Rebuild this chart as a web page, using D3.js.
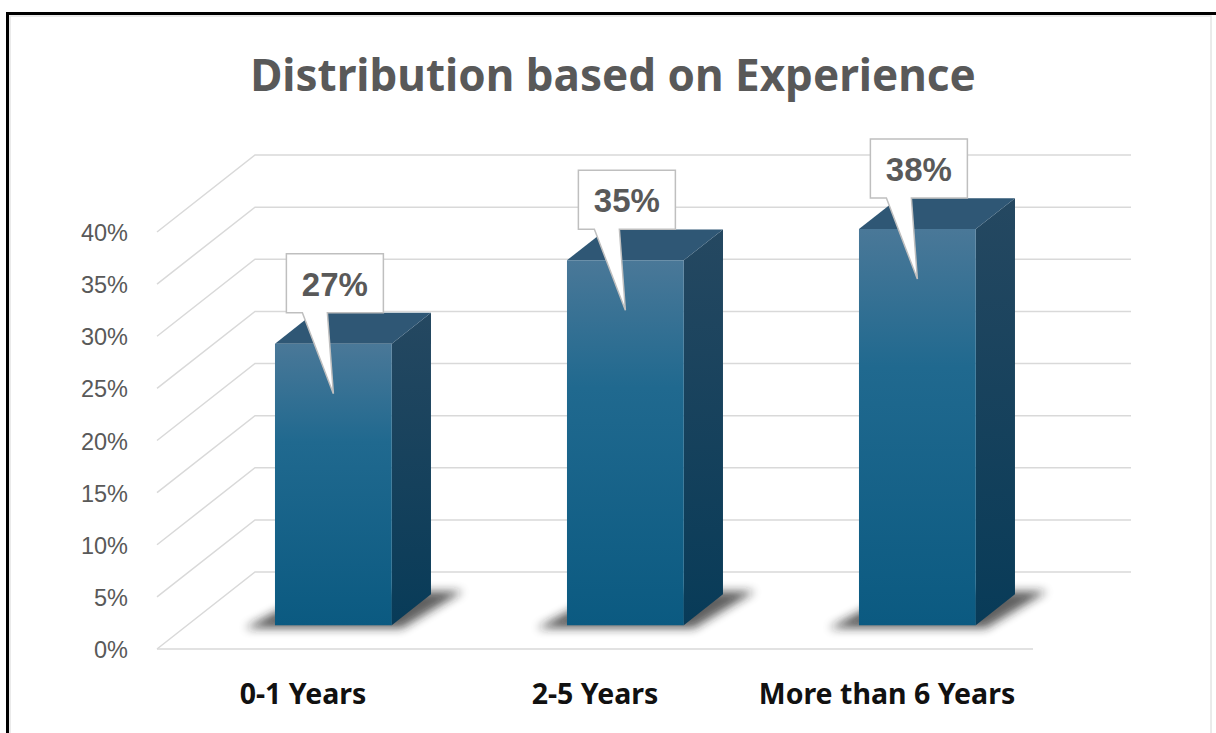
<!DOCTYPE html>
<html lang="en">
<meta charset="utf-8">
<script src="https://cdn.jsdelivr.net/npm/d3@7"></script>
<style>
  body { margin: 0; background: #fff; }
</style>
<body>
<div id="chart"></div>
<script>
    // data
    var categories = ["0-1 Years", "2-5 Years", "More than 6 Years"];
    var shares = [0.27, 0.35, 0.38];
    var shareLabels = ["27%", "35%", "38%"];
    var yTicks = [0, 0.05, 0.10, 0.15, 0.20, 0.25, 0.30, 0.35, 0.40];
    var title = "Distribution based on Experience";

    var W = 1216, H = 733;
    var floorLeft = 157, floorRight = 1033, baseY = 649, topY = 232;
    var depth = {dx: 98, dy: -77};      // oblique depth of the whole floor
    var barFront = 0.31, barBack = 0.71; // bar position inside the depth

    var svg = d3.select("#chart").append("svg")
        .attr("width", W)
        .attr("height", H);

    var defs = svg.append("defs");

    var gFront = defs.append("linearGradient").attr("id", "front")
        .attr("x1", 0).attr("y1", 0).attr("x2", 0).attr("y2", 1);
    gFront.append("stop").attr("offset", "0%").attr("stop-color", "#4a7898");
    gFront.append("stop").attr("offset", "35%").attr("stop-color", "#20698f");
    gFront.append("stop").attr("offset", "100%").attr("stop-color", "#0b5a81");

    var gSide = defs.append("linearGradient").attr("id", "side")
        .attr("x1", 0).attr("y1", 0).attr("x2", 0).attr("y2", 1);
    gSide.append("stop").attr("offset", "0%").attr("stop-color", "#254861");
    gSide.append("stop").attr("offset", "100%").attr("stop-color", "#083b58");

    defs.append("filter").attr("id", "blur")
        .attr("x", "-20%").attr("y", "-50%").attr("width", "140%").attr("height", "200%")
      .append("feGaussianBlur").attr("stdDeviation", 5);

    // frame
    svg.append("rect")
        .attr("x", 10).attr("y", 16).attr("width", 1201).attr("height", H)
        .attr("fill", "none").attr("stroke", "#e4e4e4").attr("stroke-width", 1.5);
    svg.append("path")
        .attr("d", "M7.5," + H + "V13.5H" + W)
        .attr("fill", "none").attr("stroke", "#000").attr("stroke-width", 3);

    // title
    svg.append("text")
        .attr("x", 613).attr("y", 91)
        .attr("text-anchor", "middle")
        .style("font-family", "'Noto Sans', sans-serif")
        .style("font-weight", 700)
        .style("font-size", "44px")
        .attr("fill", "#595959")
        .text(title);

    var x = d3.scaleBand()
        .domain(categories)
        .range([floorLeft, floorRight]);

    var y = d3.scaleLinear()
        .domain([0, 0.40])
        .range([baseY, topY]);

    function pt(px, v, d) {
        return [px + d * depth.dx, y(v) + d * depth.dy];
    }

    // walls
    var grid = svg.append("g")
        .attr("fill", "none")
        .attr("stroke", "#d9d9d9")
        .attr("stroke-width", 1.5);

    grid.selectAll("path.wall")
        .data(yTicks)
      .enter().append("path")
        .attr("class", "wall")
        .attr("d", function(v) {
            var a = pt(floorLeft, v, 0), b = pt(floorLeft, v, 1), c = pt(floorRight, v, 1);
            return "M" + a + "L" + b + "L" + c;
        });

    grid.append("path")
        .attr("d", "M" + pt(floorLeft, 0, 0) + "L" + pt(floorRight, 0, 0));

    // y axis labels
    svg.append("g").selectAll("text")
        .data(yTicks)
      .enter().append("text")
        .attr("x", 128)
        .attr("y", function(v) { return y(v) + 9; })
        .attr("text-anchor", "end")
        .style("font-family", "'Liberation Sans', sans-serif")
        .style("font-size", "23.5px")
        .attr("fill", "#595959")
        .text(d3.format(".0%"));

    // bars
    var barW = x.bandwidth() * 0.4;

    var bars = svg.append("g").selectAll("g")
        .data(shares)
      .enter().append("g");

    function corners(d, i) {
        var l = x(categories[i]) + (x.bandwidth() - barW) / 2, r = l + barW;
        return {
            fl0: pt(l, 0, barFront), fr0: pt(r, 0, barFront),
            fl1: pt(l, d, barFront), fr1: pt(r, d, barFront),
            bl1: pt(l, d, barBack), br1: pt(r, d, barBack),
            br0: pt(r, 0, barBack), bl0: pt(l, 0, barBack)
        };
    }

    // floor shadow
    bars.append("path")
        .attr("d", function(d, i) {
            var c = corners(d, i);
            var s = [[c.fl0[0] - 30, c.fl0[1] + 3], [c.fr0[0] + 10, c.fr0[1] + 3],
                     [c.br0[0] + 32, c.br0[1] - 3], [c.bl0[0], c.bl0[1] - 3]];
            return "M" + s.join("L") + "Z";
        })
        .attr("fill", "#1a1a1a")
        .attr("opacity", 0.7)
        .attr("filter", "url(#blur)");

    bars.append("path")
        .attr("d", function(d, i) {
            var c = corners(d, i);
            return "M" + [c.fr0, c.fr1, c.br1, c.br0].join("L") + "Z";
        })
        .attr("fill", "url(#side)");

    bars.append("path")
        .attr("d", function(d, i) {
            var c = corners(d, i);
            return "M" + [c.fl1, c.fr1, c.br1, c.bl1].join("L") + "Z";
        })
        .attr("fill", "#2f5775");

    bars.append("path")
        .attr("d", function(d, i) {
            var c = corners(d, i);
            return "M" + [c.fl0, c.fl1, c.fr1, c.fr0].join("L") + "Z";
        })
        .attr("fill", "url(#front)");

    // callouts
    var boxW = 97, boxH = 59;
    var callouts = svg.append("g").selectAll("g")
        .data(shares)
      .enter().append("g");

    callouts.append("path")
        .attr("d", function(d, i) {
            var c = corners(d, i);
            var tipX = (c.fl1[0] + c.fr1[0]) / 2, tipY = c.fl1[1] + 50;
            var L = tipX - 47, T = c.fl1[1] - 90, R = L + boxW, B = T + boxH;
            return "M" + [[L, T], [R, T], [R, B], [L + 41, B], [tipX, tipY], [L + 16, B], [L, B]].join("L") + "Z";
        })
        .attr("fill", "#fff")
        .attr("stroke", "#bfbfbf")
        .attr("stroke-width", 1.5);

    callouts.append("text")
        .attr("x", function(d, i) {
            var c = corners(d, i);
            return (c.fl1[0] + c.fr1[0]) / 2 + 1.5;
        })
        .attr("y", function(d, i) { return corners(d, i).fl1[1] - 90 + 42; })
        .attr("text-anchor", "middle")
        .style("font-family", "'Liberation Sans', sans-serif")
        .style("font-weight", 700)
        .style("font-size", "33px")
        .attr("fill", "#595959")
        .text(function(d, i) { return shareLabels[i]; });

    // category labels
    svg.append("g").selectAll("text")
        .data(categories)
      .enter().append("text")
        .attr("x", function(d) { return x(d) + x.bandwidth() / 2; })
        .attr("y", 704)
        .attr("text-anchor", "middle")
        .style("font-family", "'Noto Sans', sans-serif")
        .style("font-weight", 700)
        .style("font-size", "28.5px")
        .attr("fill", "#111")
        .text(function(d) { return d; });
</script>
</body>
</html>
